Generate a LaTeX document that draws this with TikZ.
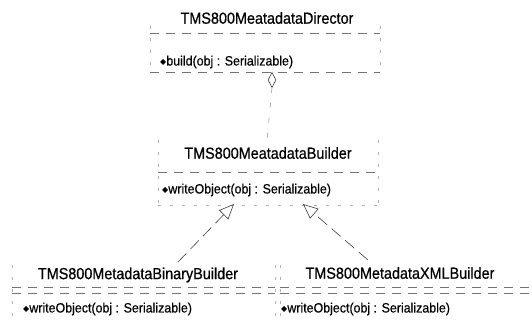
\documentclass[tikz,border=0pt]{standalone}
\usepackage{fontspec}
\setmainfont{Liberation Sans}
\newfontfamily\cond[FakeStretch=0.9,FakeBold=0.6]{Liberation Sans}
\newfontfamily\condop[FakeStretch=0.92,FakeBold=0.4]{Liberation Sans}
\newfontfamily\djv{DejaVu Sans}
\usetikzlibrary{arrows.meta,shapes.geometric}
\newcommand\opbul{{\djv\fontsize{8}{8}\selectfont\raisebox{1pt}{◆}}\hspace{0pt}}
\begin{document}
\begin{tikzpicture}[x=1pt,y=-1pt,
  title/.style={font=\cond\fontsize{16}{16}\selectfont, inner sep=0pt, anchor=center},
  op/.style={font=\condop\fontsize{13.5}{13.5}\selectfont, inner sep=0pt, anchor=west},
  edge/.style={draw=black!30, line width=0.5pt, dash pattern=on 3pt off 9pt},
  sep/.style={draw=black!55, line width=0.6pt, dash pattern=on 9pt off 7pt},
  conn/.style={draw=black!75, line width=0.6pt, dash pattern=on 12pt off 6pt},
  faint/.style={draw=black!45, line width=0.5pt, dash pattern=on 5pt off 10pt},
  gen/.style={conn, -{Triangle[open, length=15pt, width=13pt, line width=0.6pt]}},
]
\useasboundingbox[fill=white] (0,0) rectangle (532,320);

% Director
\node[title] (dT) at (267,18) {TMS800MeatadataDirector};
\draw[sep] (150,33) -- (380,33);
\draw[sep] (150,72) -- (380,72);
\draw[edge] (150,26) -- (150,72);
\draw[edge] (380,26) -- (380,72);
\node[op] (dO) at (160,62) {\opbul build(obj : Serializable)};
\node[diamond, draw=black!75, line width=0.6pt, minimum width=8pt, minimum height=15pt, inner sep=0pt] (dia) at (272,80) {};

% Builder
\node[title] (bT) at (268,153) {TMS800MeatadataBuilder};
\draw[sep] (158,172) -- (378,172);
\draw[edge] (158,140) -- (158,205);
\draw[edge] (378,140) -- (378,205);
\draw[edge] (158,205) -- (378,205);
\node[op] (bO) at (162,190) {\opbul writeObject(obj : Serializable)};
\coordinate (bTop) at (267,140);
\coordinate (bBL) at (234,204);
\coordinate (bBR) at (303,204);

\draw[faint] (dia.south) -- (bTop);

% Binary builder
\node[title] (nT) at (138,275) {TMS800MetadataBinaryBuilder};
\draw[sep] (12,287) -- (275,287);
\draw[sep] (12,293) -- (275,293);
\draw[edge] (12,265) -- (12,320);
\draw[edge] (275,265) -- (275,320);
\node[op] (nO) at (23,309) {\opbul writeObject(obj : Serializable)};
\coordinate (nTop) at (178,262);

% XML builder
\node[title] (xT) at (400,273) {TMS800MetadataXMLBuilder};
\draw[sep] (280,287) -- (532,287);
\draw[sep] (280,293) -- (532,293);
\draw[edge] (280,265) -- (280,320);
\node[op] (xO) at (281,309) {\opbul writeObject(obj : Serializable)};
\coordinate (xTop) at (368,260);

% generalisations
\draw[gen] (nTop) -- (bBL);
\draw[gen] (xTop) -- (bBR);
\end{tikzpicture}
\end{document}
